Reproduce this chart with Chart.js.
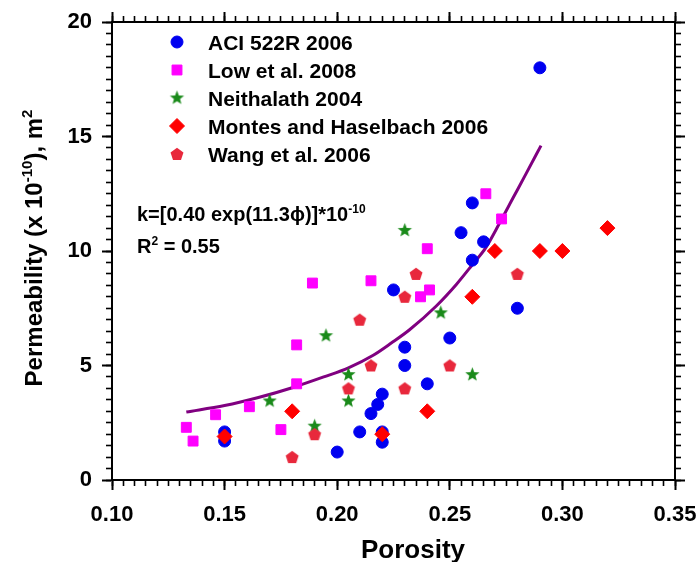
<!DOCTYPE html>
<html><head><meta charset="utf-8">
<script src="https://cdn.jsdelivr.net/npm/chart.js@4.4.0/dist/chart.umd.min.js"></script>
<style>html,body{margin:0;padding:0;background:#fff}#wrap{width:699px;height:562px}</style>
</head><body><div id="wrap"><canvas id="c" width="699" height="562"></canvas></div>
<script>
// ---------- data ----------
const xTickValues = [0.10, 0.15, 0.20, 0.25, 0.30, 0.35];
const xTickLabels = ['0.10', '0.15', '0.20', '0.25', '0.30', '0.35'];
const yTickValues = [0, 5, 10, 15, 20];
const yTickLabels = ['0', '5', '10', '15', '20'];
const seriesNames = ['ACI 522R 2006', 'Low et al. 2008', 'Neithalath 2004', 'Montes and Haselbach 2006', 'Wang et al. 2006'];

const aciX = [0.15, 0.15, 0.20, 0.21, 0.215, 0.218, 0.22, 0.22, 0.22, 0.225, 0.23, 0.23, 0.24, 0.25, 0.255, 0.26, 0.26, 0.265, 0.28, 0.29];
const aciY = [2.1, 1.7, 1.22, 2.1, 2.9, 3.3, 3.75, 2.1, 1.65, 8.3, 5.8, 5.0, 4.2, 6.2, 10.8, 12.1, 9.6, 10.4, 7.5, 18.0];

const lowX = [0.133, 0.136, 0.146, 0.161, 0.175, 0.182, 0.182, 0.189, 0.215, 0.237, 0.241, 0.24, 0.266, 0.273];
const lowY = [2.3, 1.7, 2.85, 3.2, 2.2, 4.2, 5.9, 8.6, 8.7, 8.0, 8.3, 10.1, 12.5, 11.4];

const neiX = [0.17, 0.19, 0.195, 0.205, 0.205, 0.23, 0.246, 0.26];
const neiY = [3.45, 2.35, 6.3, 4.6, 3.45, 10.9, 7.3, 4.6];

const monX = [0.15, 0.18, 0.22, 0.24, 0.26, 0.27, 0.29, 0.30, 0.32];
const monY = [1.9, 3.0, 2.0, 3.0, 8.0, 10.0, 10.0, 10.0, 11.0];

const wangX = [0.18, 0.19, 0.205, 0.21, 0.215, 0.23, 0.23, 0.235, 0.25, 0.28];
const wangY = [1.0, 2.0, 4.0, 7.0, 5.0, 4.0, 8.0, 9.0, 5.0, 9.0];

const fitX = [0.133, 0.150, 0.165, 0.180, 0.194, 0.205, 0.216, 0.224, 0.232, 0.244, 0.253, 0.260, 0.266, 0.272, 0.278, 0.284, 0.2905];
const fitY = [2.97, 3.25, 3.6, 4.03, 4.5, 4.9, 5.45, 5.98, 6.55, 7.6, 8.55, 9.4, 10.15, 11.2, 12.3, 13.4, 14.6];

const eqLine1 = [{t: 'k=[0.40 exp(11.3\u03D5)]*10'}, {t: '-10', sup: true}];
const eqLine2 = [{t: 'R'}, {t: '2', sup: true}, {t: ' = 0.55'}];
const xTitle = [{t: 'Porosity'}];
const yTitle = [{t: 'Permeability (x 10'}, {t: '-10', sup: true}, {t: '), m'}, {t: '2', sup: true}];

// ---------- helpers ----------
const FONT = '"Liberation Sans", Arial, sans-serif';
const zip = (xs, ys) => xs.map((x, i) => ({x, y: ys[i]}));

function makeStar(color, R, r) {
  const c = document.createElement('canvas');
  const s = Math.ceil(R * 2 + 2); c.width = s; c.height = s;
  const g = c.getContext('2d'); g.fillStyle = color; g.beginPath();
  for (let i = 0; i < 10; i++) {
    const a = -Math.PI / 2 + i * Math.PI / 5, rr = i % 2 ? r : R;
    g.lineTo(s / 2 + rr * Math.cos(a), s / 2 + rr * Math.sin(a));
  }
  g.closePath(); g.fill(); return c;
}
function makePent(color, R) {
  const c = document.createElement('canvas');
  const s = Math.ceil(R * 2 + 2); c.width = s; c.height = s;
  const g = c.getContext('2d'); g.fillStyle = color; g.beginPath();
  for (let i = 0; i < 5; i++) {
    const a = -Math.PI / 2 + i * 2 * Math.PI / 5;
    g.lineTo(s / 2 + R * Math.cos(a), s / 2 + 0.5 + R * Math.sin(a));
  }
  g.closePath(); g.fill(); return c;
}
const starImg = makeStar('#1a8a1a', 7.5, 3.2);
const pentImg = makePent('#e8283c', 6.8);

const colors = ['#0000f0', '#ff00ff', '#1a8a1a', '#ff0000', '#e8283c'];
const styles = ['circle', 'rect', starImg, 'rectRot', pentImg];
const radii = [6, 7, 7, 7.5, 7];

function richWidth(ctx, parts, size) {
  let w = 0;
  for (const p of parts) {
    ctx.font = `bold ${p.sup ? Math.round(size * 0.62) : size}px ${FONT}`;
    w += ctx.measureText(p.t).width;
  }
  return w;
}
function drawRich(ctx, parts, x, y, size) {
  for (const p of parts) {
    ctx.font = `bold ${p.sup ? Math.round(size * 0.62) : size}px ${FONT}`;
    ctx.fillText(p.t, x, p.sup ? y - size * 0.42 : y);
    x += ctx.measureText(p.t).width;
  }
}

const deco = {
  id: 'deco',
  afterDraw(chart) {
    const ctx = chart.ctx;
    ctx.save();
    ctx.fillStyle = '#000';
    ctx.textAlign = 'left';
    ctx.textBaseline = 'alphabetic';
    // legend
    const rows = [42, 70, 98, 126, 154];
    seriesNames.forEach((n, i) => {
      ctx.fillStyle = colors[i]; ctx.strokeStyle = colors[i]; ctx.lineWidth = 1;
      Chart.helpers.drawPoint(ctx, {pointStyle: styles[i], rotation: 0, radius: radii[i], borderWidth: 1}, 177, rows[i]);
      ctx.fillStyle = '#000';
      ctx.font = `bold 21px ${FONT}`;
      ctx.fillText(n, 208, rows[i] + 7.5);
    });
    // equation
    drawRich(ctx, eqLine1, 137, 221, 20);
    drawRich(ctx, eqLine2, 137, 253, 20);
    // x title
    const xs = 26;
    const xw = richWidth(ctx, xTitle, xs);
    drawRich(ctx, xTitle, 413 - xw / 2, 558, xs);
    // y title
    const ys = 24;
    const yw = richWidth(ctx, yTitle, ys);
    ctx.translate(42, 248);
    ctx.rotate(-Math.PI / 2);
    drawRich(ctx, yTitle, -yw / 2, 0, ys);
    ctx.restore();
  }
};

// ---------- axes ----------
const tickFont = {family: FONT, size: 22, weight: 'bold'};
function zeroPad(s) { s.paddingLeft = 0; s.paddingRight = 0; s.paddingTop = 0; s.paddingBottom = 0; }
function mkAxis(kind, pos, major, opts) {
  const isX = kind === 'x';
  const min = isX ? 0.1 : 0, max = isX ? 0.35 : 20;
  const vals = isX ? xTickValues : yTickValues;
  const minorStep = isX ? 0.005 : 0.5;
  return Object.assign({
    type: 'linear', position: pos, min, max,
    weight: major ? 1 : 0,
    border: {display: true, color: '#000', width: 2},
    grid: {display: true, drawOnChartArea: false, drawTicks: true,
      tickLength: major ? 10 : 6, tickColor: '#000', tickWidth: major ? 2 : 1.6},
    ticks: {display: false, font: tickFont, color: '#000'},
    afterBuildTicks: s => {
      if (major) s.ticks = vals.map(v => ({value: v}));
      else {
        const t = []; const n = Math.round((max - min) / minorStep);
        for (let i = 0; i <= n; i++) t.push({value: min + i * minorStep});
        s.ticks = t;
      }
    },
    afterFit: s => { if (isX) s.height = 0; else s.width = 0; zeroPad(s); }
  }, opts || {});
}

const scales = {
  x: mkAxis('x', 'bottom', true, {
    ticks: {display: true, font: tickFont, color: '#000', padding: 12, maxRotation: 0, autoSkip: false,
      callback: (v, i) => xTickLabels[i]},
    afterFit: s => { s.height = 82; zeroPad(s); }
  }),
  xm: mkAxis('x', 'bottom', false),
  xt: mkAxis('x', 'top', true),
  xtm: mkAxis('x', 'top', false),
  y: mkAxis('y', 'left', true, {
    ticks: {display: true, font: tickFont, color: '#000', padding: 10, autoSkip: false,
      callback: (v, i) => yTickLabels[i]},
    afterFit: s => { s.width = 112; zeroPad(s); }
  }),
  ym: mkAxis('y', 'left', false),
  yr: mkAxis('y', 'right', true),
  yrm: mkAxis('y', 'right', false)
};

const pointDs = [
  [aciX, aciY], [lowX, lowY], [neiX, neiY], [monX, monY], [wangX, wangY]
].map(([xs, ys], i) => ({
  label: seriesNames[i], data: zip(xs, ys), showLine: false,
  pointStyle: styles[i], pointRadius: radii[i], pointHoverRadius: radii[i],
  backgroundColor: colors[i], borderColor: colors[i], borderWidth: 1,
  order: 5 - i
}));

new Chart(document.getElementById('c'), {
  type: 'scatter',
  data: {
    datasets: [...pointDs, {
      label: 'fit', data: zip(fitX, fitY), showLine: true, borderColor: '#800080',
      borderWidth: 3, pointRadius: 0, cubicInterpolationMode: 'monotone', fill: false, order: 10
    }]
  },
  options: {
    responsive: false, animation: false, devicePixelRatio: 1,
    layout: {padding: {left: 0, right: 24, top: 22, bottom: 0}},
    plugins: {legend: {display: false}, tooltip: {enabled: false}},
    scales
  },
  plugins: [deco]
});
</script>
</body></html>
